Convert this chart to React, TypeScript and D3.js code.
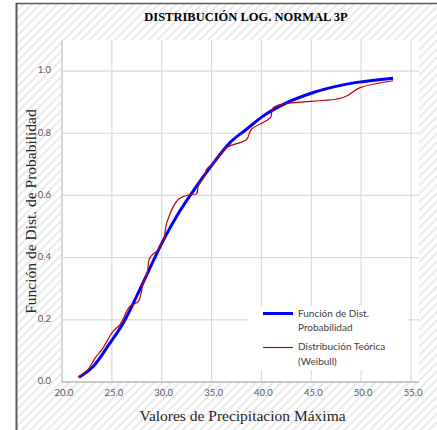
import React from "react";
import * as d3 from "d3";

// Valores
const xTicks = [20, 25, 30, 35, 40, 45, 50, 55];
const yTicks = [0, 0.2, 0.4, 0.6, 0.8, 1.0];

// Función de distribución Log-Normal 3P (azul)
const fdX = [21.7, 23.1, 24.8, 26.15, 27.8, 30.2, 31.8, 32.8, 35.2, 36.85, 38.5, 40.2, 41.9, 45.2, 48.55, 53.2];
const fdY = [0.015, 0.049, 0.125, 0.19, 0.297, 0.458, 0.549, 0.598, 0.705, 0.77, 0.813, 0.856, 0.888, 0.931, 0.958, 0.977];

// Distribución teórica Weibull (rojo)
const wbX = [21.6, 22.6, 23.3, 24.1, 25.1, 25.8, 26.8, 27.65, 28.15, 28.55, 28.8, 29.65, 30.2, 30.5, 31.66, 32.84, 33.5, 33.67, 34.3, 34.5, 35.2, 36.5, 38.5, 39.0, 40.9, 41.2, 48.2, 49.9, 53.2];
const wbY = [0.015, 0.04, 0.076, 0.109, 0.162, 0.184, 0.243, 0.259, 0.318, 0.35, 0.399, 0.426, 0.458, 0.512, 0.587, 0.603, 0.606, 0.63, 0.662, 0.684, 0.705, 0.754, 0.78, 0.813, 0.85, 0.883, 0.915, 0.947, 0.969];

const W = 437;
const H = 430;
const plot = { left: 62, right: 419, top: 40, bottom: 382 };

const App: React.FC = () => {
  const x = d3.scaleLinear().domain([20, 55.8]).range([plot.left, plot.right]);
  const y = d3.scaleLinear().domain([0, 1.1]).range([plot.bottom, plot.top]);

  const fdPts: [number, number][] = fdX.map((v, i) => [v, fdY[i]]);
  const wbPts: [number, number][] = wbX.map((v, i) => [v, wbY[i]]);

  const lineFd = d3
    .line<[number, number]>()
    .x((d) => x(d[0]))
    .y((d) => y(d[1]))
    .curve(d3.curveMonotoneX);

  const lineWb = d3
    .line<[number, number]>()
    .x((d) => x(d[0]))
    .y((d) => y(d[1]))
    .curve(d3.curveCatmullRom.alpha(0.5));

  const tickFont = "Lato, 'Open Sans', sans-serif";
  const serif = "'Liberation Serif', 'DejaVu Serif', serif";

  return (
    <svg width={W} height={H} style={{ position: "absolute", left: 0, top: 0 }}>
      <defs>
        <pattern id="hatch" patternUnits="userSpaceOnUse" width={6} height={6} patternTransform="rotate(45)">
          <rect width={6} height={6} fill="#ffffff" />
          <line x1={1.5} y1={0} x2={1.5} y2={6} stroke="#e4e4e4" strokeWidth={1.6} />
        </pattern>
      </defs>

      {/* fondo del área del gráfico */}
      <rect x={16} y={3} width={W} height={H} fill="url(#hatch)" />
      <line x1={16.5} y1={3} x2={16.5} y2={H} stroke="#595959" strokeWidth={2} />
      <line x1={16} y1={3.5} x2={W} y2={3.5} stroke="#595959" strokeWidth={1.5} />

      {/* área de trazado */}
      <rect x={plot.left} y={plot.top} width={plot.right - plot.left} height={plot.bottom - plot.top} fill="#ffffff" />

      {xTicks.map((t) => (
        <line key={"gx" + t} x1={x(t)} x2={x(t)} y1={plot.top} y2={plot.bottom} stroke="#d9d9d9" strokeWidth={1.2} />
      ))}
      {yTicks.map((t) => (
        <line key={"gy" + t} x1={plot.left} x2={plot.right} y1={y(t)} y2={y(t)} stroke="#d9d9d9" strokeWidth={1.2} />
      ))}
      <line x1={plot.left} x2={plot.left} y1={plot.top} y2={plot.bottom} stroke="#d0d0d0" strokeWidth={1.5} />
      <line x1={plot.left} x2={plot.right} y1={plot.bottom} y2={plot.bottom} stroke="#c8c8c8" strokeWidth={1.8} />

      {/* etiquetas de ejes */}
      {xTicks.map((t) => (
        <text key={"tx" + t} x={x(t) + 2} y={394} textAnchor="middle" dominantBaseline="middle" fontFamily={tickFont} fontSize={9.5} fill="#595959">
          {t.toFixed(1)}
        </text>
      ))}
      {yTicks.map((t) => (
        <text key={"ty" + t} x={51} y={y(t)} textAnchor="end" dominantBaseline="middle" fontFamily={tickFont} fontSize={9.5} fill="#595959">
          {t.toFixed(1)}
        </text>
      ))}

      {/* series */}
      <path d={lineFd(fdPts) || ""} fill="none" stroke="#0000ff" strokeWidth={3} />
      <path d={lineWb(wbPts) || ""} fill="none" stroke="#c00000" strokeWidth={1.2} />

      {/* leyenda */}
      <rect x={248} y={306} width={160} height={64} fill="#ffffff" />
      <line x1={263} x2={293} y1={313.5} y2={313.5} stroke="#0000ff" strokeWidth={3} />
      <text x={298} y={314} dominantBaseline="middle" fontFamily={tickFont} fontSize={10} fill="#404040">Función de Dist.</text>
      <text x={298} y={328.5} dominantBaseline="middle" fontFamily={tickFont} fontSize={10} fill="#404040">Probabilidad</text>
      <line x1={263} x2={293} y1={347.5} y2={347.5} stroke="#c00000" strokeWidth={1.2} />
      <text x={298} y={347.5} dominantBaseline="middle" fontFamily={tickFont} fontSize={10} fill="#404040">Distribución Teórica</text>
      <text x={298} y={362} dominantBaseline="middle" fontFamily={tickFont} fontSize={10} fill="#404040">(Weibull)</text>

      {/* títulos */}
      <text x={246} y={21} textAnchor="middle" fontFamily={serif} fontWeight="bold" fontSize={12.5} fill="#000000">
        DISTRIBUCIÓN LOG. NORMAL 3P
      </text>
      <text x={242.5} y={421} textAnchor="middle" fontFamily={serif} fontSize={15.5} fill="#262626">
        Valores de Precipitacion Máxima
      </text>
      <text transform="translate(35.5,211.5) rotate(-90)" textAnchor="middle" fontFamily={serif} fontSize={15.5} fill="#262626">
        Función de Dist. de Probabilidad
      </text>
    </svg>
  );
};

export default App;
